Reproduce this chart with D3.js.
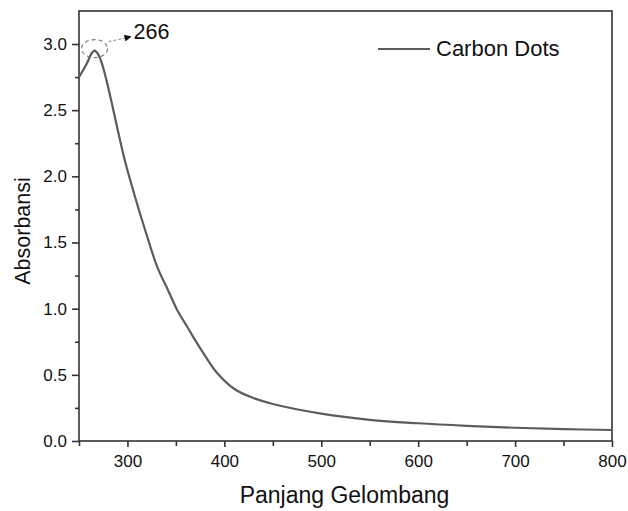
<!DOCTYPE html>
<html><head><meta charset="utf-8">
<script src="https://cdn.jsdelivr.net/npm/d3@7"></script>
<style>body{margin:0;background:#fff}svg{display:block}text{font-family:"Liberation Sans",Arial,sans-serif;fill:#111}</style>
</head><body><svg id="c" width="628" height="511"></svg>
<script>
const wavelength = [250,258,263,266,270,275,283,290,298,308,318,331,340,352,362,370,380,393,410,428,450,500,550,600,650,700,750,800];
const absorbance = [2.75,2.85,2.93,2.95,2.92,2.82,2.58,2.35,2.10,1.84,1.60,1.31,1.17,0.98,0.86,0.76,0.645,0.51,0.395,0.33,0.28,0.207,0.16,0.134,0.115,0.10,0.09,0.083];
const xTicks = [300,400,500,600,700,800];
const xMinor = [250,350,450,550,650,750];
const yTicks = [0,0.5,1.0,1.5,2.0,2.5,3.0];
const yMinor = [0.25,0.75,1.25,1.75,2.25,2.75];
const seriesName = "Carbon Dots";
const peakLabel = "266";
const peakX = 266, peakY = 2.95;

const svg = d3.select("#c");
const L=79, R=612, T=11, B=441;
const x = d3.scaleLinear().domain([250,800]).range([L,R]);
const y = d3.scaleLinear().domain([0,3.0]).range([B,44]);
const axisColor="#333";

svg.append("rect").attr("x",L).attr("y",T).attr("width",R-L).attr("height",B-T)
  .attr("fill","none").attr("stroke",axisColor).attr("stroke-width",1.6);

const gx = svg.append("g").attr("transform",`translate(0,${B})`)
  .call(d3.axisBottom(x).tickValues(xMinor).tickSize(5).tickFormat(""));
const gx2 = svg.append("g").attr("transform",`translate(0,${B})`)
  .call(d3.axisBottom(x).tickValues(xTicks).tickSize(6).tickPadding(8).tickFormat(d3.format("d")));
[gx,gx2].forEach(g=>{g.select(".domain").remove();g.selectAll("line").attr("stroke",axisColor).attr("stroke-width",1.6);});
gx2.selectAll("text").attr("font-size",17).attr("fill","#111").attr("font-family","Liberation Sans, Arial, sans-serif");

const gy = svg.append("g").attr("transform",`translate(${L},0)`)
  .call(d3.axisLeft(y).tickValues(yMinor).tickSize(4).tickFormat(""));
const gy2 = svg.append("g").attr("transform",`translate(${L},0)`)
  .call(d3.axisLeft(y).tickValues(yTicks).tickSize(7).tickPadding(5).tickFormat(d3.format(".1f")));
[gy,gy2].forEach(g=>{g.select(".domain").remove();g.selectAll("line").attr("stroke",axisColor).attr("stroke-width",1.6);});
gy2.selectAll("text").attr("font-size",17).attr("fill","#111").attr("font-family","Liberation Sans, Arial, sans-serif");

svg.append("text").attr("x",(L+R)/2-1).attr("y",503).attr("text-anchor","middle").attr("font-size",23).text("Panjang Gelombang");
svg.append("text").attr("transform",`translate(30,${(T+B)/2+5}) rotate(-90)`).attr("text-anchor","middle").attr("font-size",21.5).text("Absorbansi");

const data = wavelength.map((w,i)=>[w,absorbance[i]]);
svg.append("path").datum(data).attr("fill","none").attr("stroke","#5c5c5c").attr("stroke-width",2.2)
  .attr("d",d3.line().x(d=>x(d[0])).y(d=>y(d[1])).curve(d3.curveCatmullRom.alpha(0.5)));

svg.append("defs").append("marker").attr("id","ah").attr("viewBox","0 0 10 10").attr("refX",10).attr("refY",5)
  .attr("markerWidth",10).attr("markerHeight",7).attr("markerUnits","userSpaceOnUse").attr("orient","auto")
  .append("path").attr("d","M0,0L10,5L0,10z").attr("fill","#111");
const cx = x(peakX), cy = y(peakY)-2;
svg.append("ellipse").attr("cx",cx).attr("cy",cy).attr("rx",13).attr("ry",9)
  .attr("fill","none").attr("stroke","#777").attr("stroke-width",1.1).attr("stroke-dasharray","4,3");
svg.append("line").attr("x1",cx+14).attr("y1",cy-7).attr("x2",cx+37).attr("y2",cy-12)
  .attr("stroke","#888").attr("stroke-width",1).attr("stroke-dasharray","3,2").attr("marker-end","url(#ah)");
svg.append("text").attr("x",cx+39).attr("y",cy-10).attr("font-size",21.5).text(peakLabel);

svg.append("line").attr("x1",378).attr("x2",430).attr("y1",49).attr("y2",49).attr("stroke","#5c5c5c").attr("stroke-width",2.2);
svg.append("text").attr("x",436).attr("y",56).attr("font-size",22).text(seriesName);
</script></body></html>
